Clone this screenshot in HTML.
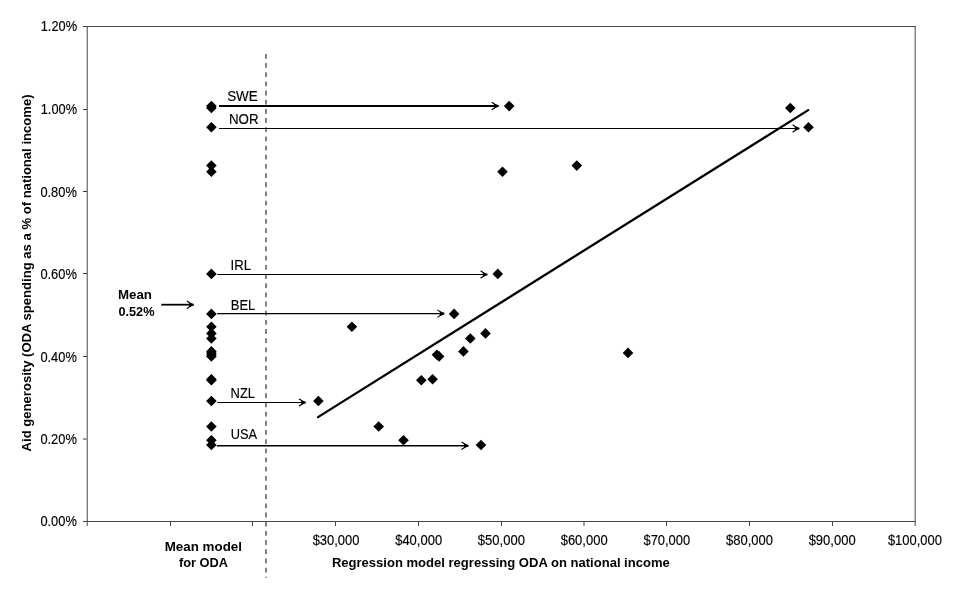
<!DOCTYPE html>
<html><head><meta charset="utf-8"><style>
html,body{margin:0;padding:0;background:#fff;width:960px;height:590px;overflow:hidden}
svg{display:block}
body{filter:grayscale(1)}
</style></head><body>
<svg width="960" height="590" viewBox="0 0 960 590">
<g shape-rendering="crispEdges">
<rect x="86" y="26" width="1" height="500" fill="#c8c8c8"/><rect x="87" y="26" width="1" height="500" fill="#7e7e7e"/>
<rect x="914" y="26" width="1" height="500" fill="#c0c0c0"/><rect x="915" y="26" width="1" height="500" fill="#858585"/>
<rect x="83" y="26" width="833" height="1" fill="#474747"/><rect x="83" y="521" width="833" height="1" fill="#474747"/>
<rect x="83" y="109" width="4" height="1" fill="#3a3a3a"/>
<rect x="83" y="191" width="4" height="1" fill="#3a3a3a"/>
<rect x="83" y="273" width="4" height="1" fill="#3a3a3a"/>
<rect x="83" y="356" width="4" height="1" fill="#3a3a3a"/>
<rect x="83" y="438" width="4" height="2" fill="#9a9a9a"/>
<rect x="170" y="522" width="1" height="4" fill="#4a4a4a"/>
<rect x="252" y="522" width="1" height="4" fill="#4a4a4a"/>
<rect x="335" y="522" width="1" height="4" fill="#4a4a4a"/>
<rect x="418" y="522" width="1" height="4" fill="#4a4a4a"/>
<rect x="501" y="522" width="1" height="4" fill="#4a4a4a"/>
<rect x="666" y="522" width="1" height="4" fill="#4a4a4a"/>
<rect x="749" y="522" width="1" height="4" fill="#4a4a4a"/>
<rect x="832" y="522" width="1" height="4" fill="#4a4a4a"/>
<rect x="583" y="522" width="2" height="4" fill="#a0a0a0"/>
</g>
<line x1="266" y1="53.9" x2="266" y2="577.7" stroke="#5a5a5a" stroke-width="1.5" stroke-dasharray="4.8 4.374"/>
<line x1="318" y1="417.1" x2="808.2" y2="110.1" stroke="#000" stroke-width="2.3" stroke-linecap="round"/>
<line x1="219.0" y1="106" x2="495.8" y2="106" stroke="#000" stroke-width="1.8"/><path d="M492.20 102.50L497.30 106.00L492.20 109.50" stroke="#000" stroke-width="1.15" fill="none" stroke-linecap="round" stroke-linejoin="round"/><path d="M498.80 105.20L498.80 106.80L494.20 108.30L494.20 103.70Z" fill="#000"/>
<line x1="219.0" y1="128.5" x2="796.5" y2="128.5" stroke="#000" stroke-width="1.2"/><path d="M792.90 125.00L798.00 128.50L792.90 132.00" stroke="#000" stroke-width="1.15" fill="none" stroke-linecap="round" stroke-linejoin="round"/><path d="M799.50 127.70L799.50 129.30L794.90 130.80L794.90 126.20Z" fill="#000"/>
<line x1="217.2" y1="274.5" x2="484.5" y2="274.5" stroke="#000" stroke-width="1.2"/><path d="M480.90 271.00L486.00 274.50L480.90 278.00" stroke="#000" stroke-width="1.15" fill="none" stroke-linecap="round" stroke-linejoin="round"/><path d="M487.50 273.70L487.50 275.30L482.90 276.80L482.90 272.20Z" fill="#000"/>
<line x1="217.1" y1="313.6" x2="441.4" y2="313.6" stroke="#000" stroke-width="1.4"/><path d="M437.80 310.10L442.90 313.60L437.80 317.10" stroke="#000" stroke-width="1.15" fill="none" stroke-linecap="round" stroke-linejoin="round"/><path d="M444.40 312.80L444.40 314.40L439.80 315.90L439.80 311.30Z" fill="#000"/>
<line x1="217.1" y1="402.5" x2="302.9" y2="402.5" stroke="#000" stroke-width="1.2"/><path d="M299.30 399.00L304.40 402.50L299.30 406.00" stroke="#000" stroke-width="1.15" fill="none" stroke-linecap="round" stroke-linejoin="round"/><path d="M305.90 401.70L305.90 403.30L301.30 404.80L301.30 400.20Z" fill="#000"/>
<line x1="216.8" y1="445.8" x2="465.6" y2="445.8" stroke="#000" stroke-width="1.6"/><path d="M462.00 442.30L467.10 445.80L462.00 449.30" stroke="#000" stroke-width="1.15" fill="none" stroke-linecap="round" stroke-linejoin="round"/><path d="M468.60 445.00L468.60 446.60L464.00 448.10L464.00 443.50Z" fill="#000"/>
<line x1="161.25" y1="304.7" x2="190.9" y2="304.7" stroke="#000" stroke-width="1.8"/><path d="M187.30 301.20L192.40 304.70L187.30 308.20" stroke="#000" stroke-width="1.15" fill="none" stroke-linecap="round" stroke-linejoin="round"/><path d="M193.90 303.90L193.90 305.50L189.30 307.00L189.30 302.40Z" fill="#000"/>
<g fill="#000">
<path d="M509.20 100.80L514.50 106.10L509.20 111.40L503.90 106.10Z"/>
<path d="M211.40 100.80L216.70 106.10L211.40 111.40L206.10 106.10Z"/>
<path d="M790.30 102.70L795.60 108.00L790.30 113.30L785.00 108.00Z"/>
<path d="M211.40 102.70L216.70 108.00L211.40 113.30L206.10 108.00Z"/>
<path d="M808.50 122.00L813.80 127.30L808.50 132.60L803.20 127.30Z"/>
<path d="M211.40 122.00L216.70 127.30L211.40 132.60L206.10 127.30Z"/>
<path d="M576.80 160.30L582.10 165.60L576.80 170.90L571.50 165.60Z"/>
<path d="M211.40 160.30L216.70 165.60L211.40 170.90L206.10 165.60Z"/>
<path d="M502.50 166.40L507.80 171.70L502.50 177.00L497.20 171.70Z"/>
<path d="M211.40 166.40L216.70 171.70L211.40 177.00L206.10 171.70Z"/>
<path d="M497.80 268.60L503.10 273.90L497.80 279.20L492.50 273.90Z"/>
<path d="M211.40 268.60L216.70 273.90L211.40 279.20L206.10 273.90Z"/>
<path d="M454.10 308.60L459.40 313.90L454.10 319.20L448.80 313.90Z"/>
<path d="M211.40 308.60L216.70 313.90L211.40 319.20L206.10 313.90Z"/>
<path d="M351.90 321.50L357.20 326.80L351.90 332.10L346.60 326.80Z"/>
<path d="M211.40 321.50L216.70 326.80L211.40 332.10L206.10 326.80Z"/>
<path d="M485.50 328.10L490.80 333.40L485.50 338.70L480.20 333.40Z"/>
<path d="M211.40 328.10L216.70 333.40L211.40 338.70L206.10 333.40Z"/>
<path d="M470.30 333.20L475.60 338.50L470.30 343.80L465.00 338.50Z"/>
<path d="M211.40 333.20L216.70 338.50L211.40 343.80L206.10 338.50Z"/>
<path d="M463.40 346.10L468.70 351.40L463.40 356.70L458.10 351.40Z"/>
<path d="M211.40 346.10L216.70 351.40L211.40 356.70L206.10 351.40Z"/>
<path d="M628.00 347.60L633.30 352.90L628.00 358.20L622.70 352.90Z"/>
<path d="M211.40 347.60L216.70 352.90L211.40 358.20L206.10 352.90Z"/>
<path d="M436.90 349.40L442.20 354.70L436.90 360.00L431.60 354.70Z"/>
<path d="M211.40 349.40L216.70 354.70L211.40 360.00L206.10 354.70Z"/>
<path d="M439.10 351.10L444.40 356.40L439.10 361.70L433.80 356.40Z"/>
<path d="M211.40 351.10L216.70 356.40L211.40 361.70L206.10 356.40Z"/>
<path d="M421.30 375.00L426.60 380.30L421.30 385.60L416.00 380.30Z"/>
<path d="M211.40 375.00L216.70 380.30L211.40 385.60L206.10 380.30Z"/>
<path d="M432.60 374.00L437.90 379.30L432.60 384.60L427.30 379.30Z"/>
<path d="M211.40 374.00L216.70 379.30L211.40 384.60L206.10 379.30Z"/>
<path d="M318.40 395.70L323.70 401.00L318.40 406.30L313.10 401.00Z"/>
<path d="M211.40 395.70L216.70 401.00L211.40 406.30L206.10 401.00Z"/>
<path d="M378.70 421.20L384.00 426.50L378.70 431.80L373.40 426.50Z"/>
<path d="M211.40 421.20L216.70 426.50L211.40 431.80L206.10 426.50Z"/>
<path d="M403.50 435.00L408.80 440.30L403.50 445.60L398.20 440.30Z"/>
<path d="M211.40 435.00L216.70 440.30L211.40 445.60L206.10 440.30Z"/>
<path d="M481.00 439.70L486.30 445.00L481.00 450.30L475.70 445.00Z"/>
<path d="M211.40 439.70L216.70 445.00L211.40 450.30L206.10 445.00Z"/>
</g>
<g font-family="Liberation Sans, Arial, sans-serif" font-size="14" fill="#000">
<text x="40.38" y="526" stroke="#000" stroke-width="0.15" textLength="36.44" lengthAdjust="spacingAndGlyphs">0.00%</text>
<text x="40.38" y="444" stroke="#000" stroke-width="0.15" textLength="36.44" lengthAdjust="spacingAndGlyphs">0.20%</text>
<text x="40.38" y="362" stroke="#000" stroke-width="0.15" textLength="36.44" lengthAdjust="spacingAndGlyphs">0.40%</text>
<text x="40.38" y="279" stroke="#000" stroke-width="0.15" textLength="36.44" lengthAdjust="spacingAndGlyphs">0.60%</text>
<text x="40.38" y="197" stroke="#000" stroke-width="0.15" textLength="36.44" lengthAdjust="spacingAndGlyphs">0.80%</text>
<text x="40.77" y="114" stroke="#000" stroke-width="0.15" textLength="36.24" lengthAdjust="spacingAndGlyphs">1.00%</text>
<text x="40.77" y="31" stroke="#000" stroke-width="0.15" textLength="36.24" lengthAdjust="spacingAndGlyphs">1.20%</text>
<text x="312.64" y="545" stroke="#000" stroke-width="0.15" textLength="46.85" lengthAdjust="spacingAndGlyphs">$30,000</text>
<text x="395.19" y="545" stroke="#000" stroke-width="0.15" textLength="46.92" lengthAdjust="spacingAndGlyphs">$40,000</text>
<text x="477.87" y="545" stroke="#000" stroke-width="0.15" textLength="47.07" lengthAdjust="spacingAndGlyphs">$50,000</text>
<text x="560.69" y="545" stroke="#000" stroke-width="0.15" textLength="46.92" lengthAdjust="spacingAndGlyphs">$60,000</text>
<text x="643.46" y="545" stroke="#000" stroke-width="0.15" textLength="46.68" lengthAdjust="spacingAndGlyphs">$70,000</text>
<text x="726.01" y="545" stroke="#000" stroke-width="0.15" textLength="46.93" lengthAdjust="spacingAndGlyphs">$80,000</text>
<text x="808.63" y="545" stroke="#000" stroke-width="0.15" textLength="47.02" lengthAdjust="spacingAndGlyphs">$90,000</text>
<text x="887.88" y="545" stroke="#000" stroke-width="0.15" textLength="54.04" lengthAdjust="spacingAndGlyphs">$100,000</text>
<text x="227.13" y="101" stroke="#000" stroke-width="0.15" textLength="30.63" lengthAdjust="spacingAndGlyphs">SWE</text>
<text x="229.03" y="124" stroke="#000" stroke-width="0.15" textLength="29.58" lengthAdjust="spacingAndGlyphs">NOR</text>
<text x="230.57" y="270" stroke="#000" stroke-width="0.15" textLength="20.54" lengthAdjust="spacingAndGlyphs">IRL</text>
<text x="230.78" y="310" stroke="#000" stroke-width="0.15" textLength="24.56" lengthAdjust="spacingAndGlyphs">BEL</text>
<text x="230.61" y="398" stroke="#000" stroke-width="0.15" textLength="24.45" lengthAdjust="spacingAndGlyphs">NZL</text>
<text x="230.83" y="439" stroke="#000" stroke-width="0.15" textLength="26.34" lengthAdjust="spacingAndGlyphs">USA</text>
<text x="117.99" y="299" font-weight="bold" font-size="13.7" textLength="33.98" lengthAdjust="spacingAndGlyphs">Mean</text>
<text x="118.40" y="316" font-weight="bold" font-size="13.7" textLength="36.05" lengthAdjust="spacingAndGlyphs">0.52%</text>
<text x="164.69" y="551" font-weight="bold" font-size="13.7" textLength="77.27" lengthAdjust="spacingAndGlyphs">Mean model</text>
<text x="178.94" y="567" font-weight="bold" font-size="13.7" textLength="49.16" lengthAdjust="spacingAndGlyphs">for ODA</text>
<text x="331.88" y="567" font-weight="bold" font-size="13.7" textLength="337.91" lengthAdjust="spacingAndGlyphs">Regression model regressing ODA on national income</text>
<text transform="translate(30.7 451.39) rotate(-90)" font-weight="bold" font-size="13.7" textLength="356.90" lengthAdjust="spacingAndGlyphs">Aid generosity (ODA spending as a % of national income)</text>
</g>
</svg>
</body></html>
